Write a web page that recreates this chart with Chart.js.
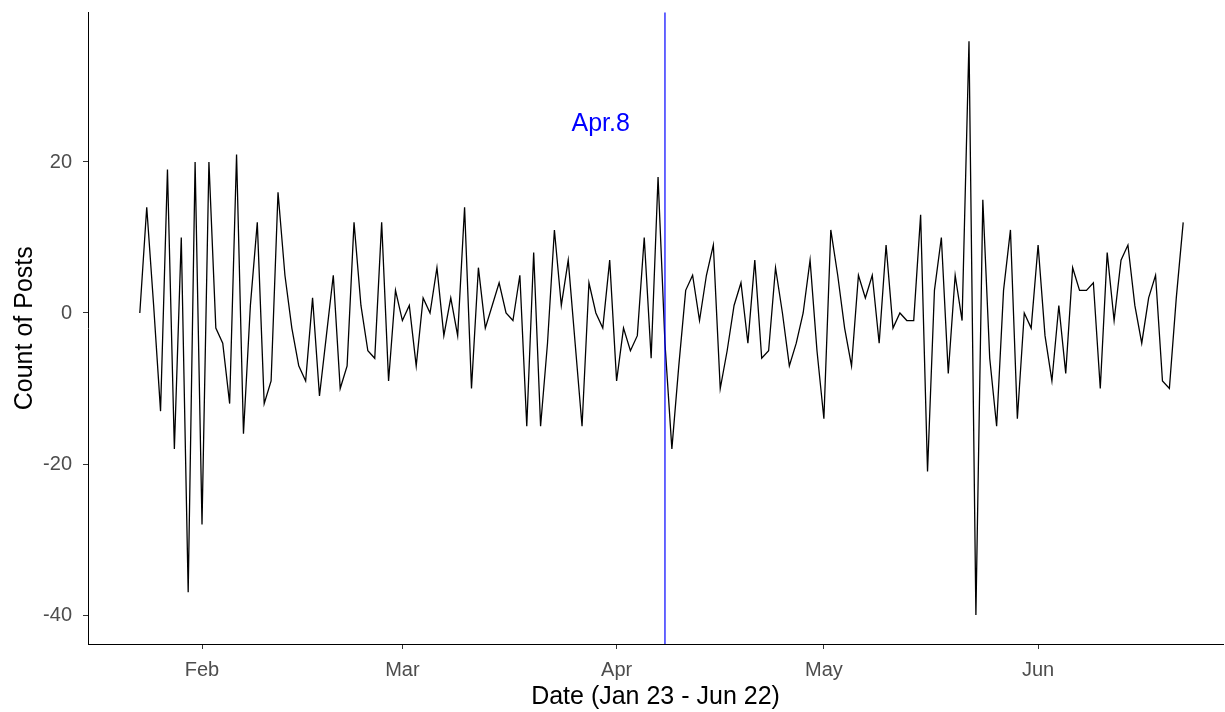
<!DOCTYPE html>
<html lang="en">
<head>
<meta charset="utf-8">
<title>Count of Posts</title>
<script src="https://cdn.jsdelivr.net/npm/chart.js@4.4.1/dist/chart.umd.min.js"></script>
<style>
  html, body { margin: 0; padding: 0; background: #fff; }
  #chart { display: block; }
</style>
</head>
<body>
<canvas id="chart" width="1225" height="712"></canvas>
<script>
// daily change in post count, Jan 23 .. Jun 22 (one value per day)
const counts = [
  0, 14, 1, -13, 19, -18, 10, -37, 20, -28,
  20, -2, -4, -12, 21, -16, 1, 12, -12, -9,
  16, 5, -2, -7, -9, 2, -11, -3, 5, -10,
  -7, 12, 1, -5, -6, 12, -9, 3, -1, 1,
  -7, 2, 0, 6, -3, 2, -3, 14, -10, 6,
  -2, 1, 4, 0, -1, 5, -15, 8, -15, -4,
  11, 1, 7, -4, -15, 4, 0, -2, 7, -9,
  -2, -5, -3, 10, -6, 18, -4, -18, -7, 3,
  5, -1, 5, 9, -10, -5, 1, 4, -4, 7,
  -6, -5, 6, 0, -7, -4, 0, 7, -5, -14,
  11, 5, -2, -7, 5, 2, 5, -4, 9, -2,
  0, -1, -1, 13, -21, 3, 10, -8, 5, -1,
  36, -40, 15, -6, -15, 3, 11, -14, 0, -2,
  9, -3, -9, 1, -8, 6, 3, 3, 4, -10,
  8, -1, 7, 9, 1, -4, 2, 5, -9, -10,
  2, 12
];

// day offsets (from Jan 23) of the first day of each month
const monthTicks = [9, 38, 69, 99, 130];
const monthLabels = ['Feb', 'Mar', 'Apr', 'May', 'Jun'];
const yTicks = [-40, -20, 0, 20];

const markerDay = 76; // Apr 8
const markerLabel = 'Apr.8';
const markerLabelAt = { x: 66.7, y: 25 };

const FONT = '"Liberation Sans", Arial, sans-serif';

const markerLine = {
  id: 'markerLine',
  afterDatasetsDraw(chart) {
    const { ctx, chartArea, scales } = chart;
    const x = scales.x.getPixelForValue(markerDay);
    ctx.save();
    ctx.strokeStyle = '#0000ff';
    ctx.lineWidth = 1.2;
    ctx.beginPath();
    ctx.moveTo(x, chartArea.top);
    ctx.lineTo(x, chartArea.bottom);
    ctx.stroke();

    ctx.fillStyle = '#0000ff';
    ctx.font = `25px ${FONT}`;
    ctx.textAlign = 'center';
    ctx.textBaseline = 'middle';
    ctx.fillText(
      markerLabel,
      scales.x.getPixelForValue(markerLabelAt.x),
      scales.y.getPixelForValue(markerLabelAt.y)
    );
    ctx.restore();
  }
};

const points = counts.map((value, day) => ({ x: day, y: value }));

new Chart(document.getElementById('chart'), {
  type: 'line',
  data: {
    datasets: [
      {
        data: points,
        borderColor: '#000000',
        borderWidth: 1.3,
        pointRadius: 0,
        tension: 0,
        fill: false
      }
    ]
  },
  options: {
    responsive: false,
    animation: false,
    devicePixelRatio: 1,
    layout: { padding: { top: 12.5, right: 2, left: 0, bottom: 0 } },
    plugins: {
      legend: { display: false },
      tooltip: { enabled: false }
    },
    scales: {
      x: {
        type: 'linear',
        min: -7.5,
        max: 156.76,
        afterBuildTicks: (axis) => {
          axis.ticks = monthTicks.map((value) => ({ value }));
        },
        afterFit: (axis) => {
          axis.height = 68;
          axis.paddingLeft = 0;
          axis.paddingRight = 0;
        },
        ticks: {
          autoSkip: false,
          maxRotation: 0,
          color: '#4d4d4d',
          padding: 9,
          font: { family: FONT, size: 20 },
          callback: (value) => monthLabels[monthTicks.indexOf(value)]
        },
        grid: { drawOnChartArea: false, drawTicks: true, tickLength: 5, color: '#333333' },
        border: { display: true, color: '#000000', width: 1 },
        title: {
          display: true,
          text: 'Date (Jan 23 - Jun 22)',
          color: '#000000',
          font: { family: FONT, size: 25 },
          padding: { top: 0, bottom: 0 }
        }
      },
      y: {
        type: 'linear',
        min: -43.84,
        max: 39.8,
        afterBuildTicks: (axis) => {
          axis.ticks = yTicks.map((value) => ({ value }));
        },
        afterFit: (axis) => {
          axis.width = 88;
          axis.paddingTop = 0;
          axis.paddingBottom = 0;
        },
        ticks: {
          color: '#4d4d4d',
          padding: 11,
          font: { family: FONT, size: 20 }
        },
        grid: { drawOnChartArea: false, drawTicks: true, tickLength: 5, color: '#333333' },
        border: { display: true, color: '#000000', width: 1 },
        title: {
          display: true,
          text: 'Count of Posts',
          color: '#000000',
          font: { family: FONT, size: 25 },
          padding: { top: 10, bottom: 0 }
        }
      }
    }
  },
  plugins: [markerLine]
});
</script>
</body>
</html>
